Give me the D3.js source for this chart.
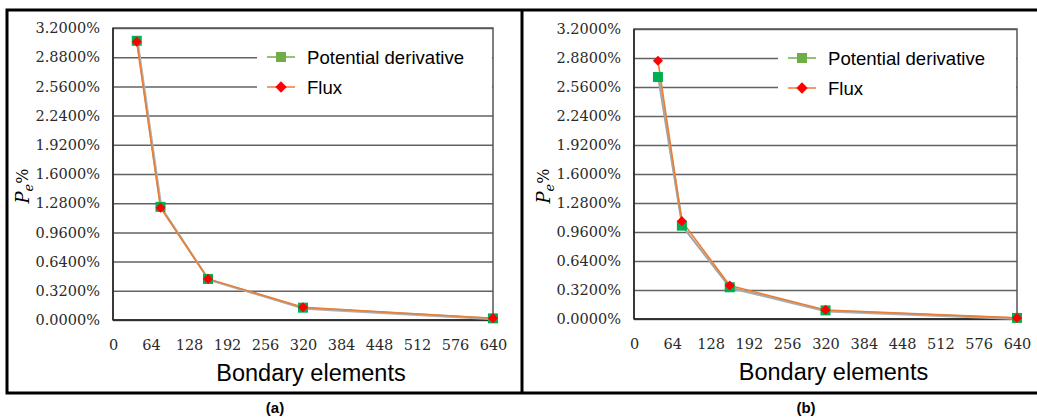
<!DOCTYPE html>
<html>
<head>
<meta charset="utf-8">
<script src="https://cdn.jsdelivr.net/npm/d3@7"></script>
<style>
  body { margin: 0; background: #fff; }
  svg { display: block; }
</style>
</head>
<body>
<svg width="1037" height="420"></svg>
<script>
// boundary element counts and error values in percent
const elements = [40, 80, 160, 320, 640];
const aPotential = [3.06, 1.24, 0.45, 0.135, 0.018];
const aFlux = [3.05, 1.23, 0.45, 0.14, 0.02];
const bPotential = [2.67, 1.03, 0.35, 0.095, 0.012];
const bFlux = [2.85, 1.08, 0.37, 0.10, 0.012];
const xTicks = [0, 64, 128, 192, 256, 320, 384, 448, 512, 576, 640];
const yTicks = d3.range(0, 11).map(i => i * 0.32);
const seriesNames = ["Potential derivative", "Flux"];

let svg = d3.select("svg");
svg.append("rect").attr("width", 1037).attr("height", 420).attr("fill", "#fff");

// outer frame
svg.append("path")
    .attr("d", "M1037,10 H7 V393 H1037 M522,10 V393")
    .attr("fill", "none")
    .attr("stroke", "#000")
    .attr("stroke-width", 3);

function panel(left, right, top, bottom, pot, flux, labelX, caption, capX) {
    let x = d3.scaleLinear().domain([0, 640]).range([left, right]);
    let y = d3.scaleLinear().domain([0, 3.2]).range([bottom, top]);
    let g = svg.append("g");

    // gridlines
    g.append("g")
        .attr("transform", "translate(" + left + ",0)")
        .call(d3.axisLeft(y).tickValues(yTicks).tickSize(-(right - left)).tickFormat(d => d.toFixed(4) + "%").tickPadding(13))
        .call(g => g.select(".domain").remove())
        .call(g => g.selectAll(".tick line").attr("stroke", "#626262").attr("stroke-width", 1.5))
        .call(g => g.selectAll(".tick text")
            .attr("font-family", "DejaVu Serif")
            .attr("font-size", 14.5)
            .attr("fill", "#2a2a2a"));

    // plot border
    g.append("rect")
        .attr("x", left).attr("y", top)
        .attr("width", right - left).attr("height", bottom - top)
        .attr("fill", "none")
        .attr("stroke", "#555")
        .attr("stroke-width", 1.5);
    g.append("line")
        .attr("x1", left).attr("x2", left).attr("y1", top).attr("y2", bottom)
        .attr("stroke", "#222").attr("stroke-width", 1.5);
    g.append("line")
        .attr("x1", left).attr("x2", right).attr("y1", bottom).attr("y2", bottom)
        .attr("stroke", "#222").attr("stroke-width", 1.5);

    // x axis labels
    g.append("g")
        .attr("transform", "translate(0," + bottom + ")")
        .call(d3.axisBottom(x).tickValues(xTicks).tickSize(0).tickPadding(20))
        .call(g => g.select(".domain").remove())
        .call(g => g.selectAll(".tick text")
            .attr("font-family", "DejaVu Serif")
            .attr("font-size", 14.5)
            .attr("fill", "#2a2a2a"));

    g.append("text")
        .attr("x", (left + right) / 2 + 8)
        .attr("y", bottom + 61)
        .attr("text-anchor", "middle")
        .attr("font-family", "Liberation Sans, Arial")
        .attr("font-size", 23.5)
        .attr("fill", "#000")
        .text("Bondary elements");

    // y label P_e%
    let yl = g.append("text")
        .attr("transform", "translate(" + labelX + "," + ((top + bottom) / 2 + 12) + ") rotate(-90)")
        .attr("text-anchor", "middle")
        .attr("font-family", "DejaVu Serif")
        .attr("font-size", 18)
        .attr("fill", "#000");
    yl.append("tspan").attr("font-style", "italic").text("P");
    yl.append("tspan").attr("font-style", "italic").attr("font-size", 13).attr("dy", 4).text("e");
    yl.append("tspan").attr("font-size", 16).attr("dy", -5).text("%");

    // legend box (hides gridlines)
    let lx = left + 144;
    g.append("rect")
        .attr("x", lx).attr("y", top + 14)
        .attr("width", right - lx - 1).attr("height", 60)
        .attr("fill", "#fff");

    let potLine = d3.line().x((d, i) => x(elements[i])).y(d => y(d));

    g.append("path")
        .datum(pot)
        .attr("transform", "translate(1,1)")
        .attr("fill", "none")
        .attr("stroke", "#b0b0b0")
        .attr("stroke-width", 2)
        .attr("d", potLine);
    g.append("path")
        .datum(pot)
        .attr("fill", "none")
        .attr("stroke", "#a5a5a5")
        .attr("stroke-width", 1.5)
        .attr("d", potLine);
    g.append("path")
        .datum(flux)
        .attr("fill", "none")
        .attr("stroke", "#ed7d31")
        .attr("stroke-width", 1.6)
        .attr("d", potLine);

    g.selectAll(".sq")
        .data(pot)
        .join("rect")
        .attr("x", (d, i) => x(elements[i]) - 5)
        .attr("y", d => y(d) - 5)
        .attr("width", 10).attr("height", 10)
        .attr("fill", "#00b050");
    g.selectAll(".dm")
        .data(flux)
        .join("rect")
        .attr("transform", (d, i) => "translate(" + x(elements[i]) + "," + y(d) + ") rotate(45)")
        .attr("x", -3.6).attr("y", -3.6)
        .attr("width", 7.2).attr("height", 7.2)
        .attr("fill", "#ff0000");

    // legend entries
    let rows = [top + 29, top + 59];
    let colors = ["#70ad47", "#ed7d31"];
    seriesNames.forEach((name, i) => {
        g.append("line")
            .attr("x1", lx + 10).attr("x2", lx + 38)
            .attr("y1", rows[i]).attr("y2", rows[i])
            .attr("stroke", colors[i]).attr("stroke-width", 1.5);
        if (i == 0) {
            g.append("rect")
                .attr("x", lx + 19).attr("y", rows[i] - 5)
                .attr("width", 10).attr("height", 10)
                .attr("fill", "#70ad47");
        } else {
            g.append("rect")
                .attr("transform", "translate(" + (lx + 24) + "," + rows[i] + ") rotate(45)")
                .attr("x", -4).attr("y", -4)
                .attr("width", 8).attr("height", 8)
                .attr("fill", "#ff0000");
        }
        g.append("text")
            .attr("x", lx + 50).attr("y", rows[i])
            .attr("dy", "0.35em")
            .attr("font-family", "Liberation Sans, Arial")
            .attr("font-size", 18.6)
            .attr("fill", "#000")
            .text(name);
    });

    svg.append("text")
        .attr("x", capX).attr("y", 413)
        .attr("text-anchor", "middle")
        .attr("font-family", "Liberation Sans, Arial")
        .attr("font-weight", "bold")
        .attr("font-size", 15)
        .attr("fill", "#000")
        .text(caption);
}

panel(113, 493, 28, 320, aPotential, aFlux, 29, "(a)", 275);
panel(634, 1017, 29, 319, bPotential, bFlux, 550, "(b)", 806);
</script>
</body>
</html>
